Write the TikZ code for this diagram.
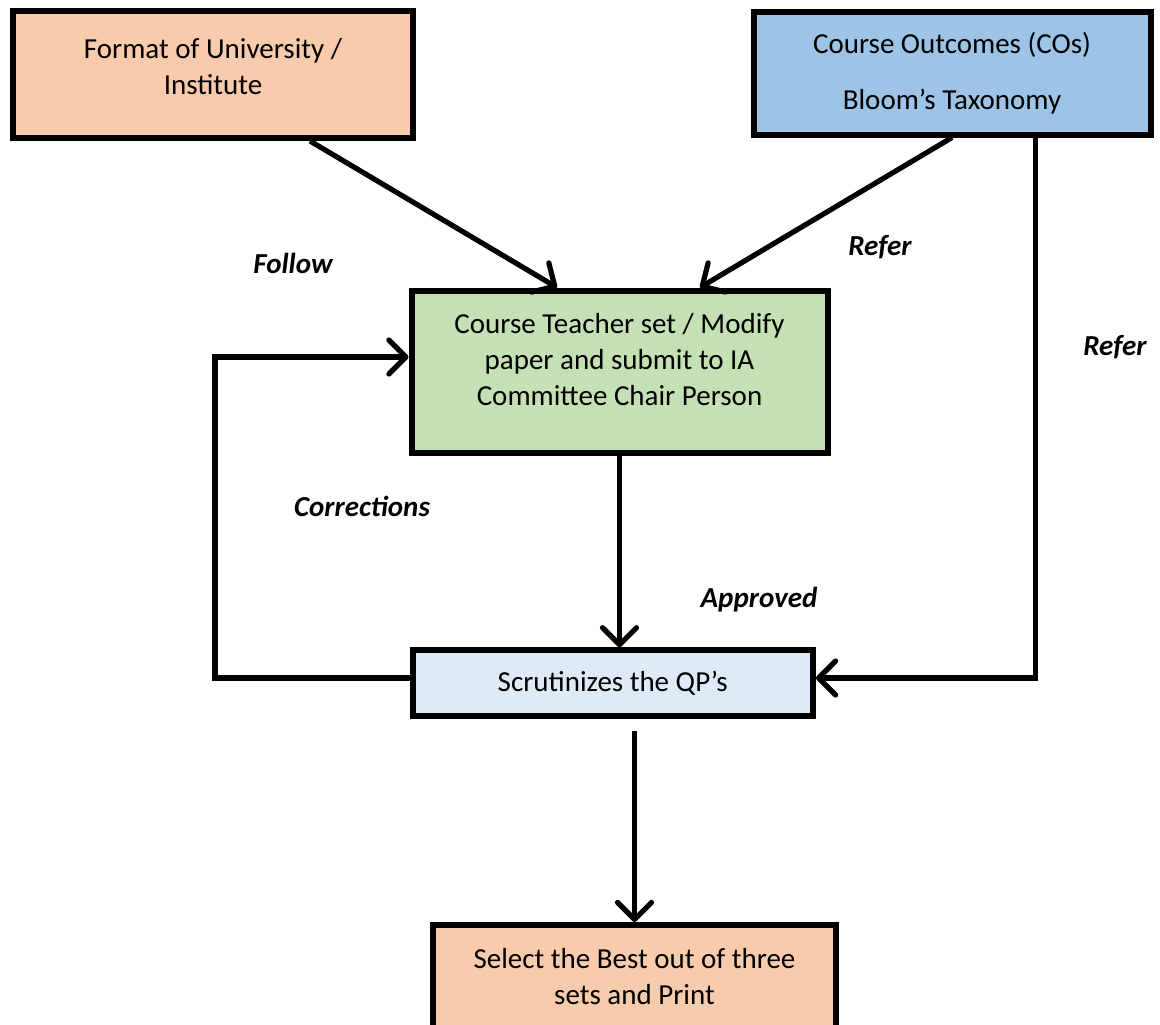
\documentclass[tikz,border=0pt]{standalone}
\usepackage{fontspec}
\setmainfont{Carlito}
\usetikzlibrary{arrows.meta}
\definecolor{peach}{HTML}{F8CBAD}
\definecolor{skyblue}{HTML}{9DC3E6}
\definecolor{sage}{HTML}{C5E0B4}
\definecolor{paleblue}{HTML}{DEEBF7}
\begin{document}
\begin{tikzpicture}[x=0.5pt,y=-0.5pt,
	box/.style={draw=black,line width=3pt,rectangle,align=center,
		font=\fontsize{14.5}{18}\selectfont,inner sep=0pt},
	flow/.style={line width=2.6pt,-{Straight Barb[round,length=8.5pt,width=17pt]}},
	tag/.style={font=\fontsize{14.5}{17}\selectfont\bfseries\itshape}]
\useasboundingbox (0,0) rectangle (1160,1024);
% boxes
\node[box,fill=peach,minimum width=200pt,minimum height=63.5pt,text depth=8pt] (fmt) at (213,74.5)
	{Format of University /\\ Institute};
\node[box,fill=skyblue,minimum width=198.5pt,minimum height=61.5pt] (cos) at (952,73)
	{Course Outcomes (COs)\\[10pt] Bloom's Taxonomy};
\node[box,fill=sage,minimum width=208pt,minimum height=81pt,text depth=12pt] (teach) at (619.5,371.5)
	{Course Teacher set / Modify\\ paper and submit to IA\\ Committee Chair Person};
\node[box,fill=paleblue,minimum width=200.25pt,minimum height=32.75pt] (scrut) at (612.75,683)
	{Scrutinizes the QP's};
\node[box,fill=peach,minimum width=201.5pt,minimum height=52pt] (best) at (634.5,977)
	{Select the Best out of three\\ sets and Print};
% labels
\node[tag] (follow) at (293,263) {Follow};
\node[tag] (refer1) at (880,247) {Refer};
\node[tag] (refer2) at (1115,347) {Refer};
\node[tag] (corr) at (362,506) {Corrections};
\node[tag] (appr) at (759,600) {Approved};
% connectors
\draw[flow] ([xshift=48.5pt]fmt.south) -- ([xshift=-31.25pt]teach.north);
\draw[flow] (cos.south) -- ([xshift=40.25pt]teach.north);
\draw[flow] ([xshift=41.75pt]cos.south) |- ([yshift=2.5pt]scrut.east);
\draw[flow] (teach.south) -- (teach.south |- scrut.north);
\draw[flow] ([yshift=2.5pt]scrut.west) -- ++(-194.5,0) |- ([yshift=7.25pt]teach.west);
\draw[flow,shorten <=6pt] (best.north |- scrut.south) -- (best.north);
\end{tikzpicture}
\end{document}
